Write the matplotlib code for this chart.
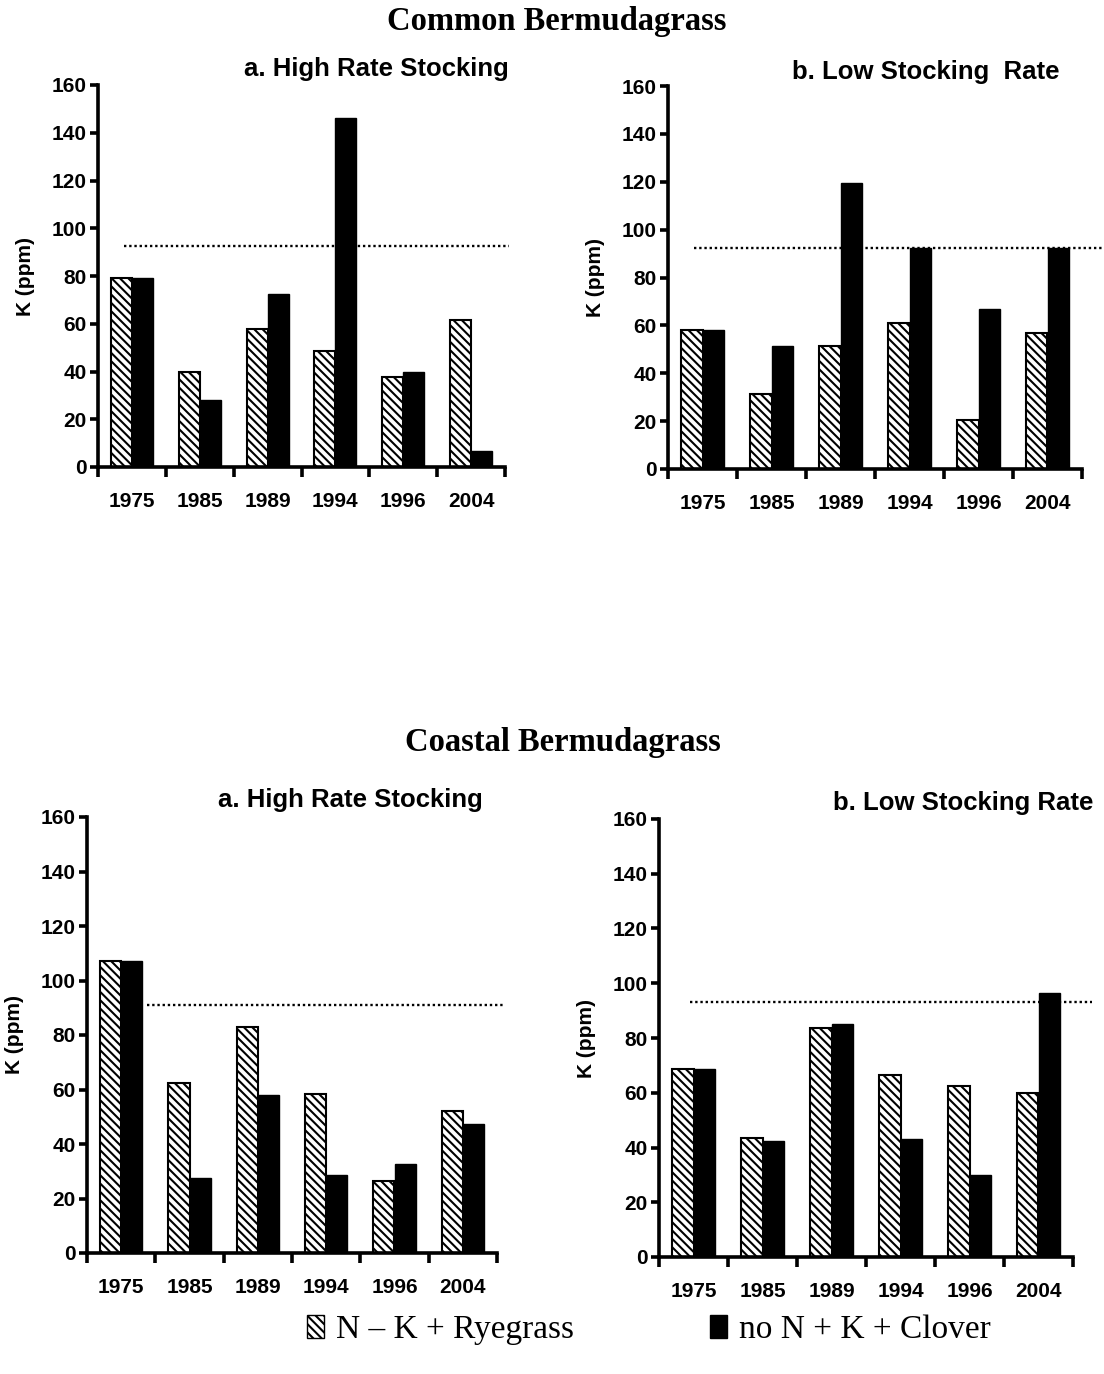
import matplotlib
matplotlib.use("Agg")
import matplotlib.pyplot as plt
from matplotlib.patches import Patch
import numpy as np

years = ["1975", "1985", "1989", "1994", "1996", "2004"]

common_high_rye = [79, 40, 58, 48.5, 37.5, 61.5]
common_high_clover = [79, 28, 72.5, 146, 40, 6.5]
common_low_rye = [58, 31.5, 51.5, 61, 20.5, 57]
common_low_clover = [58, 51.5, 119.5, 92.5, 67, 92.5]
coastal_high_rye = [107, 62.5, 83, 58.5, 26.5, 52]
coastal_high_clover = [107, 27.5, 58, 28.5, 32.5, 47.5]
coastal_low_rye = [68.5, 43.5, 83.5, 66.5, 62.5, 60]
coastal_low_clover = [68.5, 42.5, 85, 43, 30, 96.5]

thresholds = [92.5, 92.5, 91, 93.3]

series_labels = ["N \u2013 K + Ryegrass", "no N + K + Clover"]
group_titles = ["Common Bermudagrass", "Coastal Bermudagrass"]
panel_titles = ["a. High Rate Stocking", "b. Low Stocking  Rate",
                "a. High Rate Stocking", "b. Low Stocking Rate"]

plt.rcParams['hatch.linewidth'] = 1.5
W, H = 1104, 1374
fig = plt.figure(figsize=(W / 100, H / 100), dpi=100)
fig.patch.set_facecolor("white")

def px(x0, y0, x1, y1):
    return [x0 / W, 1 - y1 / H, (x1 - x0) / W, (y1 - y0) / H]

panels = [
    dict(rect=px(98, 85, 505, 467), rye=common_high_rye, clo=common_high_clover,
         thr=thresholds[0], ls=-0.12, le=5.56, title=panel_titles[0], tx=376, ty=76),
    dict(rect=px(668, 86, 1082, 469), rye=common_low_rye, clo=common_low_clover,
         thr=thresholds[1], ls=-0.12, le=6.1, title=panel_titles[1], tx=926, ty=79),
    dict(rect=px(87, 817, 497, 1253), rye=coastal_high_rye, clo=coastal_high_clover,
         thr=thresholds[2], ls=0.38, le=5.62, title=panel_titles[2], tx=350, ty=807),
    dict(rect=px(659, 819, 1073, 1257), rye=coastal_low_rye, clo=coastal_low_clover,
         thr=thresholds[3], ls=-0.05, le=5.78, title=panel_titles[3], tx=963, ty=810),
]

sans = "Liberation Sans"
serif = "Liberation Serif"
w = 0.31
x = np.arange(len(years))

for p in panels:
    ax = fig.add_axes(p["rect"])
    ax.bar(x - w / 2, p["rye"], width=w, facecolor="white", edgecolor="black",
           hatch="\\\\\\\\", linewidth=1.5, zorder=2)
    ax.bar(x + w / 2, p["clo"], width=w, color="black", edgecolor="black",
           linewidth=1.0, zorder=2)
    ax.plot([p["ls"], p["le"]], [p["thr"], p["thr"]], linestyle=(0, (1, 1.2)),
            color="black", linewidth=1.7, clip_on=False, zorder=3)
    ax.set_xlim(-0.5, len(years) - 0.5)
    ax.set_ylim(0, 160)
    ax.set_yticks(np.arange(0, 161, 20))
    ax.set_xticks(x)
    ax.set_xticklabels(years)
    ax.set_xticks(np.arange(-0.5, len(years), 1.0), minor=True)
    for s in ["top", "right"]:
        ax.spines[s].set_visible(False)
    for s in ["left", "bottom"]:
        ax.spines[s].set_linewidth(2.6)
    ax.tick_params(axis="x", which="major", length=0, pad=18)
    ax.tick_params(axis="x", which="minor", length=7, width=2.6, direction="out")
    ax.tick_params(axis="y", which="major", length=6, width=2.6, direction="out", pad=2)
    for lab in ax.get_xticklabels() + ax.get_yticklabels():
        lab.set_fontfamily(sans)
        lab.set_fontweight("bold")
        lab.set_fontsize(15)
    ax.set_ylabel("K (ppm)", fontfamily=sans, fontweight="bold", fontsize=15, labelpad=12)
    fig.text(p["tx"] / W, 1 - p["ty"] / H, p["title"], ha="center", va="baseline",
             fontfamily=sans, fontweight="bold", fontsize=18.5)

fig.text(557 / W, 1 - 30 / H, group_titles[0], ha="center", va="baseline",
         fontfamily=serif, fontweight="bold", fontsize=23.5)
fig.text(563 / W, 1 - 751 / H, group_titles[1], ha="center", va="baseline",
         fontfamily=serif, fontweight="bold", fontsize=23.5)

handles = [Patch(facecolor="white", edgecolor="black", hatch="\\\\\\\\", linewidth=1.0),
           Patch(facecolor="black", edgecolor="black")]
fig.legend(handles, series_labels, loc="center", bbox_to_anchor=(649 / W, 1 - 1330 / H),
           ncol=2, frameon=False, prop={"family": serif, "size": 24},
           handlelength=0.5, handleheight=0.65, handletextpad=0.35, columnspacing=4.1)

fig.savefig("out.png", dpi=100, facecolor="white")
